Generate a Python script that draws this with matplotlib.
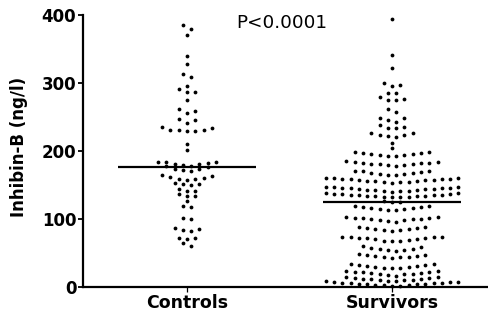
from __future__ import annotations

import matplotlib

matplotlib.use("Agg")

import matplotlib.pyplot as plt
import numpy as np


GROUPS = ["Controls", "Survivors"]

# Inhibin-B (ng/l), one value per subject
CONTROLS = [
    60, 64.5,
    70.5, 71, 72,
    82.5, 83.5, 84.5, 86,
    99, 101,
    117, 119,
    125.5,
    133, 133.5, 137,
    140.5, 141, 143.5,
    149, 150.5, 151, 153,
    157.5, 158, 158.5, 159.5, 161, 163, 164,
    170.5, 172, 173, 173.5, 176.5, 177,
    177.5, 179, 180, 181, 182.5, 183, 184, 184,
    201, 210,
    228.5, 229.5, 230.5, 231, 231, 234, 235,
    241.5, 246, 246.5,
    256, 259, 261.5,
    275,
    286, 286, 290.5,
    296,
    309, 313,
    328, 339,
    371, 379, 385,
]

SURVIVORS = [
    1, 1.5, 2, 2.5, 3, 3.5, 4, 4, 4.5, 5, 5, 5.5, 6, 6.5, 7, 7.5, 7.8,
    8.5, 9, 9.5, 10, 10.5, 11, 11.5, 12, 12.5, 13, 14, 15,
    16, 17, 18, 18.5, 19, 20, 20.5, 21, 21.5, 22, 22.5, 22.5,
    27, 27.5, 28, 28.5, 29.5, 30.5, 31, 31.5, 32.5, 33, 33.5,
    42, 43, 43.5, 44, 45, 45.5, 46, 47, 48,
    53, 54, 54, 55.5, 55.5, 57, 59, 59.5,
    67, 67.5, 68, 69, 69.5, 70.5, 71, 72, 72, 73, 73.5, 73.5, 73.5,
    82, 83, 84, 84.5, 85, 86, 87, 88, 88.5,
    95.5, 96.5, 97.5, 98, 99, 99.5, 100, 100.5, 101, 101.5, 102, 102,
    113, 113.5, 114, 115, 116, 116.5, 117, 118, 119, 119.5,
    124.5, 125.2, 126,
    131.5, 132, 132, 132.5, 133, 133, 133.5, 134, 134.5, 135, 135, 135.5,
    136, 136.5, 137, 137.5, 138,
    140, 140.5, 141, 141.5, 142, 142.5, 143, 143.5, 144, 144.5, 145, 145.5,
    146, 146, 146.5, 146.5, 146.5,
    153, 153.5, 154, 154.5, 155, 155.5, 156, 156.5, 157, 157.5, 158, 158.5,
    159, 159, 159.5, 159.5, 159.5,
    164, 165, 166, 166.5, 167.5, 168, 169, 170, 170.5, 170.5,
    178, 178.5, 179.5, 180, 180.5, 181, 181.5, 182, 182.5, 183.5, 184, 184.5,
    192, 193, 194, 194.5, 195.5, 196, 197, 197.5, 198, 198.5,
    204, 212,
    220, 222, 223.5, 223.5, 226, 226.5,
    233, 233, 235.5, 238,
    242, 245.5, 248, 248.5,
    257.5, 261,
    275, 275, 276, 280,
    285, 285,
    296, 297, 300.5,
    322, 341, 394,
]

Y_TICKS = [0, 100, 200, 300, 400]
Y_LABEL = "Inhibin-B (ng/l)"
P_TEXT = "P<0.0001"

DOT_STEP = 0.0405        # horizontal gap between neighbouring dots (x units)
ROW_HEIGHT = 7.0         # values closer than this are laid out in one row
MEDIAN_HALF_WIDTH = 0.337


def row_layout(values: list[float]) -> tuple[np.ndarray, np.ndarray]:
    """Sort values into horizontal rows, lowest value of each row in the middle."""
    ys = np.sort(np.asarray(values, dtype=float))
    offsets = np.zeros_like(ys)
    start = 0
    while start < len(ys):
        end = start
        while end < len(ys) and ys[end] - ys[start] < ROW_HEIGHT:
            end += 1
        count = end - start
        slots = (np.arange(count) - (count - 1) / 2) * DOT_STEP
        order = np.argsort(np.abs(slots) - 1e-9 * slots, kind="stable")
        offsets[start:end] = slots[order]
        start = end
    return offsets, ys


def main() -> None:
    plt.rcParams["font.family"] = ["DejaVu Sans"]

    figure = plt.figure(figsize=(4.88, 3.22), dpi=100)
    axis = figure.add_axes([83 / 488, 35.3 / 322, 405 / 488, 271.7 / 322])

    for position, values in enumerate([CONTROLS, SURVIVORS]):
        offsets, ys = row_layout(values)
        axis.scatter(position + offsets, ys, s=7.5, color="black", linewidths=0,
                     clip_on=False, zorder=3)
        median = float(np.median(values))
        axis.plot([position - MEDIAN_HALF_WIDTH, position + MEDIAN_HALF_WIDTH],
                  [median, median], color="black", lw=1.6,
                  solid_capstyle="butt", zorder=4)

    axis.set_xlim(-0.507, 1.468)
    axis.set_ylim(0, 400)
    axis.set_xticks(range(len(GROUPS)), labels=GROUPS)
    axis.set_yticks(Y_TICKS)

    for side in ("top", "right"):
        axis.spines[side].set_visible(False)
    for side in ("left", "bottom"):
        axis.spines[side].set_linewidth(1.6)
        axis.spines[side].set_zorder(5)

    axis.tick_params(axis="y", direction="out", length=3.8, width=1.3, pad=1,
                     labelsize=12)
    axis.tick_params(axis="x", direction="out", length=3.8, width=0.9, pad=1.5,
                     labelsize=12.5)
    for label in axis.get_xticklabels() + axis.get_yticklabels():
        label.set_fontweight("bold")

    axis.set_ylabel(Y_LABEL, fontsize=12, fontweight="bold", va="center")
    axis.yaxis.set_label_coords(-0.158, 0.514)

    axis.text(0.242, 381, P_TEXT, fontsize=13.2, ha="left", va="baseline")

    figure.savefig("out.png", dpi=100)
    plt.close(figure)


if __name__ == "__main__":
    main()
